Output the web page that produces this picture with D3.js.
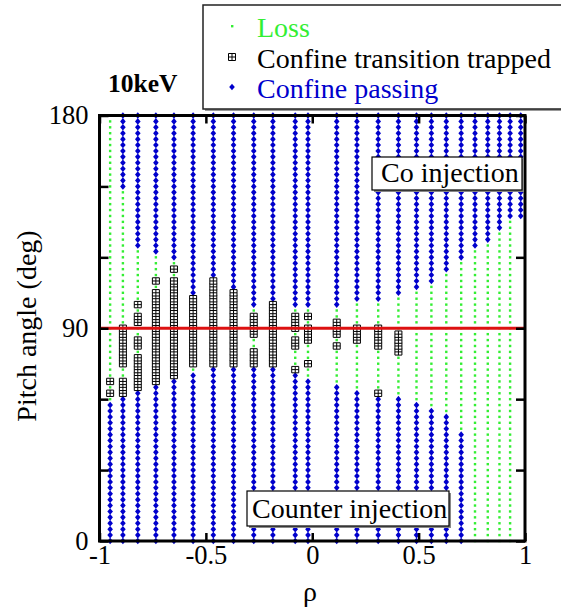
<!DOCTYPE html>
<html><head><meta charset="utf-8">
<script src="https://cdn.jsdelivr.net/npm/d3@7"></script>
<style>body{margin:0;background:#fff} svg{display:block} text{font-family:"Liberation Serif","Times New Roman",serif}</style>
</head><body><svg id="c" width="561" height="613"></svg>
<script>
// ---- data ----
const rho = [-0.95,-0.89,-0.82,-0.735,-0.65,-0.56,-0.465,-0.37,-0.275,-0.185,-0.08,-0.02,0.115,0.21,0.31,0.405,0.49,0.56,0.63,0.70,0.765,0.825,0.88,0.93,0.98];
// upper (co) passing: from this pitch angle up to 180 (null = none)
const coPassFrom = [null,150,125,122.5,120,105,112.5,107.5,100,102.5,100,100,100,102.5,102.5,105,107.5,110,115,120,125,127.5,132.5,137.5,137.5];
// lower (counter) passing: from 0 up to this pitch angle (null = none)
const ctrPassTo = [57.5,60,62.5,65,67.5,70,72.5,72.5,72.5,72.5,70,67.5,65,62.5,60,60,57.5,55,52.5,45,null,null,null,null,null];
// confined transition trapped pitch angles
const trapped = [
  [62.5,67.5],
  [62.5,65,67.5,75,77.5,80,82.5,85,87.5,90],
  [65,67.5,70,72.5,75,77.5,82.5,85,92.5,95,100],
  [67.5,70,72.5,75,77.5,80,82.5,85,87.5,90,92.5,95,97.5,100,102.5,105,110],
  [70,72.5,75,77.5,80,82.5,85,87.5,90,92.5,95,97.5,100,102.5,105,107.5,110,115],
  [75,77.5,80,82.5,85,87.5,90,92.5,95,97.5,100,102.5],
  [75,77.5,80,82.5,85,87.5,90,92.5,95,97.5,100,102.5,105,107.5,110],
  [75,77.5,80,82.5,85,87.5,90,92.5,95,97.5,100,102.5,105],
  [75,77.5,80,87.5,90,92.5,95],
  [75,77.5,80,82.5,85,87.5,90,92.5,95,97.5,100],
  [72.5,82.5,85,90,92.5,95],
  [75,85,87.5,90,95],
  [82.5,87.5,90,92.5],
  [85,87.5,90],
  [62.5,82.5,85,87.5,90],
  [80,82.5,85,87.5],
  [],[],[],[],[],[],[],[],[]
];
// whether loss points are plotted in the column
const lossShown = [1,1,1,1,1,1,1,1,1,1,1,1,1,1,1,1,1,1,1,1,1,1,1,1,0];
// pitch-angle sampling grid of the scan (deg)
const pitchGrid = d3.range(0, 180 + 1e-9, 2.5);
const xTicks = [-1,-0.5,0,0.5,1];
const yTicks = [0,30,60,90,120,150,180];
const yLabels = [0,90,180];
const legendItems = ["Loss","Confine transition trapped","Confine passing"];

// ---- build points ----
const pts = [];
rho.forEach((r,i)=>{
  pitchGrid.forEach(a=>{
    let t;
    if (coPassFrom[i]!==null && a >= coPassFrom[i]-1e-6) t = "pass";
    else if (ctrPassTo[i]!==null && a <= ctrPassTo[i]+1e-6) t = "pass";
    else if (trapped[i].some(v=>Math.abs(v-a)<1e-6)) t = "trap";
    else t = lossShown[i] ? "loss" : null;
    if (t) pts.push({r, a, t});
  });
});

const GREEN="#33ee33", BLUE="#0000cc", RED="#dd1111";
const FONT="Liberation Serif, Times New Roman, serif";
const svg = d3.select("#c");
const x = d3.scaleLinear().domain([-1,1]).range([99.5,525]);
const y = d3.scaleLinear().domain([0,180]).range([541,115.5]);

const g = svg.append("g");
// loss
g.selectAll("rect.loss").data(pts.filter(p=>p.t==="loss")).join("rect")
  .attr("class","loss").attr("x",d=>x(d.r)-1.2).attr("y",d=>y(d.a)-1.2)
  .attr("width",2.4).attr("height",2.4).attr("fill",GREEN);
// passing diamonds
const dia = "M0,-3.3L2.8,0L0,3.3L-2.8,0Z";
g.selectAll("path.pass").data(pts.filter(p=>p.t==="pass")).join("path")
  .attr("class","pass").attr("d",dia).attr("fill",BLUE)
  .attr("transform",d=>`translate(${x(d.r)},${y(d.a)})`);
// trapped squares
const sq = "M-3.5,-3.2H3.5V3.2H-3.5Z M0,-3.2V3.2 M-3.5,0H3.5";
g.selectAll("path.trap").data(pts.filter(p=>p.t==="trap")).join("path")
  .attr("class","trap").attr("d",sq).attr("fill","#fff").attr("stroke","#000").attr("stroke-width",1)
  .attr("transform",d=>`translate(${x(d.r)},${y(d.a)})`);

// red line at 90
svg.append("line").attr("x1",x(-1)).attr("x2",x(1)).attr("y1",y(90)).attr("y2",y(90))
  .attr("stroke",RED).attr("stroke-width",3);

// axes
function styleAxis(sel){ sel.attr("font-family",FONT); sel.select(".domain").remove(); sel.selectAll("line").attr("stroke","#000").attr("stroke-width",2.5);
  sel.selectAll("text").attr("font-size",26.5).attr("fill","#000").attr("font-family",FONT); }
svg.append("g").attr("transform",`translate(0,${y(0)})`)
  .call(d3.axisBottom(x).tickValues(xTicks).tickSizeInner(-8).tickSizeOuter(0).tickPadding(4).tickFormat(d=>String(d)))
  .call(styleAxis);
svg.append("g").attr("transform",`translate(0,${y(180)})`)
  .call(d3.axisTop(x).tickValues(xTicks).tickSizeInner(-8).tickSizeOuter(0).tickFormat(""))
  .call(styleAxis);
svg.append("g").attr("transform",`translate(${x(-1)},0)`)
  .call(d3.axisLeft(y).tickValues(yTicks).tickSizeInner(-9).tickSizeOuter(0).tickPadding(11)
    .tickFormat(d=>yLabels.includes(d)?String(d):""))
  .call(styleAxis);
svg.append("g").attr("transform",`translate(${x(1)},0)`)
  .call(d3.axisRight(y).tickValues(yTicks).tickSizeInner(-9).tickSizeOuter(0).tickFormat(""))
  .call(styleAxis);
// frame
svg.append("rect").attr("x",x(-1)).attr("y",y(180)).attr("width",x(1)-x(-1)).attr("height",y(0)-y(180))
  .attr("fill","none").attr("stroke","#000").attr("stroke-width",3);

// axis titles
svg.append("text").attr("x",310).attr("y",601).attr("text-anchor","middle").attr("font-size",28).attr("font-family",FONT).text("ρ");
svg.append("text").attr("transform","translate(36,326) rotate(-90)").attr("text-anchor","middle").attr("font-size",28).attr("font-family",FONT).text("Pitch angle (deg)");
svg.append("text").attr("x",108).attr("y",92).attr("font-size",25.5).attr("font-weight","bold").attr("font-family",FONT).text("10keV");

// annotation boxes
function box(x0,y0,w,h,txt,tx,ty){
  svg.append("rect").attr("x",x0+2).attr("y",y0+2).attr("width",w).attr("height",h).attr("fill","#888");
  svg.append("rect").attr("x",x0).attr("y",y0).attr("width",w).attr("height",h).attr("fill","#fff").attr("stroke","#000").attr("stroke-width",1.2);
  svg.append("text").attr("x",tx).attr("y",ty).attr("font-size",28).attr("font-family",FONT).text(txt);
}
box(372,157,150,33,"Co injection",381,182);
box(247,491,202,35,"Counter injection",252,518);

// legend
svg.append("rect").attr("x",205).attr("y",7).attr("width",370).attr("height",104).attr("fill","#999");
svg.append("rect").attr("x",203).attr("y",5).attr("width",370).attr("height",104).attr("fill","#fff").attr("stroke","#222").attr("stroke-width",1.5);
const lg = svg.append("g");
const lgY = [37,68,98];
const lgCol = [GREEN,"#000",BLUE];
legendItems.forEach((t,i)=>{
  lg.append("text").attr("x",257).attr("y",lgY[i]).attr("font-size",28).attr("font-family",FONT).attr("fill",lgCol[i]).text(t);
});
lg.append("rect").attr("x",231).attr("y",25).attr("width",2.4).attr("height",2.4).attr("fill",GREEN);
lg.append("path").attr("d","M-3.5,-3.5H3.5V3.5H-3.5Z M0,-3.5V3.5 M-3.5,0H3.5").attr("fill","#fff").attr("stroke","#000").attr("stroke-width",1).attr("transform","translate(232,57)");
lg.append("path").attr("d",dia).attr("fill",BLUE).attr("transform","translate(232,87)");
</script></body></html>
